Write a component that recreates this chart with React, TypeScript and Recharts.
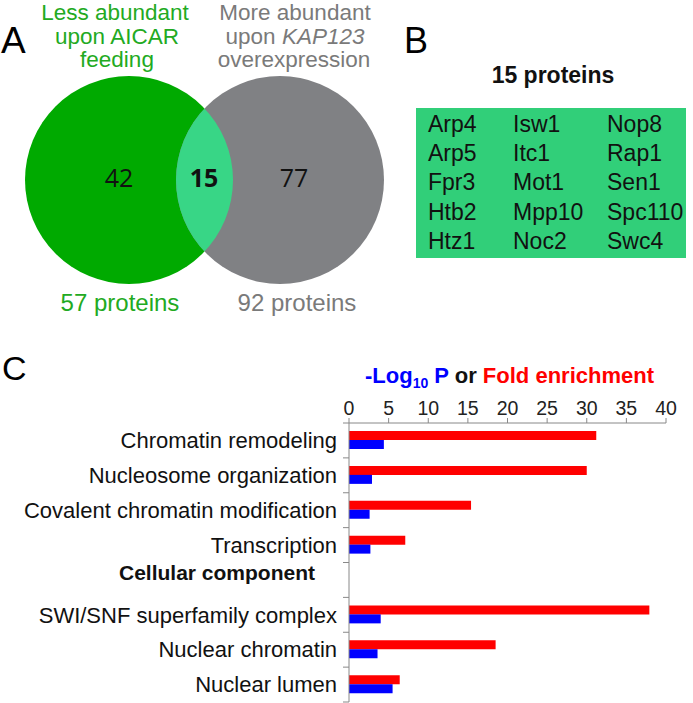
import React from "react";
import { BarChart, Bar, XAxis, YAxis } from "recharts";

// panel C: GO enrichment
const categories = [
	"Chromatin remodeling",
	"Nucleosome organization",
	"Covalent chromatin modification",
	"Transcription",
	"Cellular component",
	"SWI/SNF superfamily complex",
	"Nuclear chromatin",
	"Nuclear lumen",
];
const foldEnrichment = [31.2, 30.0, 15.4, 7.1, null, 37.9, 18.5, 6.4];
const negLog10P = [4.4, 2.9, 2.6, 2.7, null, 4.0, 3.6, 5.5];
const xTicks = [0, 5, 10, 15, 20, 25, 30, 35, 40];
const headerRows = ["Cellular component"];

// panel A / B
const vennCounts = [42, 15, 77];
const vennTotals = [57, 92];
const sharedProteins = [
	"Arp4", "Arp5", "Fpr3", "Htb2", "Htz1",
	"Isw1", "Itc1", "Mot1", "Mpp10", "Noc2",
	"Nop8", "Rap1", "Sen1", "Spc110", "Swc4",
];

const data = categories.map((name, i) => ({
	name,
	fold: foldEnrichment[i],
	logp: negLog10P[i],
}));

const FONT = '"Liberation Sans", Arial, Helvetica, sans-serif';
const W = 693;
const H = 703;
const CHART_TOP = 380;
const CHART_H = H - CHART_TOP;
const MARGIN = { top: 3, right: 27, bottom: 1, left: 0 };
const X_AXIS_H = 40;
const AXIS_X = 349;
const BAND = (CHART_H - MARGIN.top - MARGIN.bottom - X_AXIS_H) / categories.length;

const GREEN = "#00aa00";
const GRAY = "#808184";
const LENS = "#38d686";
const TABLE = "#31cf79";

function CategoryTick(props: any) {
	const { y, payload } = props;
	const idx = categories.indexOf(payload.value);
	const isHeader = headerRows.includes(payload.value);
	const top = y - BAND / 2;
	return (
		<g>
			<line x1={AXIS_X - 6} x2={AXIS_X} y1={top} y2={top} stroke="#888" />
			{idx === categories.length - 1 && (
				<line x1={AXIS_X - 6} x2={AXIS_X} y1={top + BAND} y2={top + BAND} stroke="#888" />
			)}
			<text
				x={isHeader ? 315 : AXIS_X - 12}
				y={isHeader ? y - 7.5 : y}
				dy="0.35em"
				textAnchor="end"
				fontSize={isHeader ? 21 : 22}
				fontWeight={isHeader ? "bold" : "normal"}
				fill="#111"
				fontFamily={FONT}
			>
				{payload.value}
			</text>
		</g>
	);
}

function Overlay() {
	const lc = { x: 129, y: 180 };
	const rc = { x: 280, y: 180 };
	const r = 104;
	const cols = 3;
	const rows = sharedProteins.length / cols;
	const colX = [428, 513, 607];
	return (
		<svg
			width={W}
			height={H}
			style={{ position: "absolute", left: 0, top: 0, pointerEvents: "none" }}
			fontFamily={FONT}
		>
			<defs>
				<clipPath id="leftClip">
					<circle cx={lc.x} cy={lc.y} r={r} />
				</clipPath>
			</defs>
			<text x={1} y={53} fontSize={37}>A</text>
			<text x={404} y={53} fontSize={36}>B</text>
			<text x={2} y={380} fontSize={34}>C</text>

			{/* venn headings */}
			<g fill="#22aa22" fontSize={22.5} textAnchor="middle">
				<text x={115} y={20}>Less abundant</text>
				<text x={117} y={43.5}>upon AICAR</text>
				<text x={117} y={67}>feeding</text>
			</g>
			<g fill="#7a7a7a" fontSize={22.5} textAnchor="middle">
				<text x={295} y={20}>More abundant</text>
				<text x={295} y={43.5}>
					upon <tspan fontStyle="italic">KAP123</tspan>
				</text>
				<text x={294} y={67}>overexpression</text>
			</g>

			<circle cx={lc.x} cy={lc.y} r={r} fill={GREEN} />
			<circle cx={rc.x} cy={rc.y} r={r} fill={GRAY} />
			<circle cx={rc.x} cy={rc.y} r={r} fill={LENS} clipPath="url(#leftClip)" />

			<g fontFamily='"Open Sans", sans-serif' fontSize={25} textAnchor="middle" fill="#111">
				<text x={119} y={187}>{vennCounts[0]}</text>
				<text x={204} y={187} fontWeight="bold">{vennCounts[1]}</text>
				<text x={294} y={187}>{vennCounts[2]}</text>
			</g>

			<text x={120} y={311} fontSize={24} fill="#22aa22" textAnchor="middle">
				{vennTotals[0]} proteins
			</text>
			<text x={297} y={311} fontSize={24} fill="#7a7a7a" textAnchor="middle">
				{vennTotals[1]} proteins
			</text>

			{/* panel B */}
			<text x={553} y={83} fontSize={23} fontWeight="bold" textAnchor="middle" fill="#111">
				{vennCounts[1]} proteins
			</text>
			<rect x={416} y={108} width={270} height={150} fill={TABLE} />
			{sharedProteins.map((p, i) => (
				<text
					key={p}
					x={colX[Math.floor(i / rows)]}
					y={131.5 + (i % rows) * 29.4}
					fontSize={23}
					fill="#111"
				>
					{p}
				</text>
			))}

			{/* panel C title */}
			<text x={365} y={383} fontSize={22} fontWeight="bold">
				<tspan fill="#0000ff">-Log</tspan>
				<tspan fill="#0000ff" fontSize={14} dy={5}>10</tspan>
				<tspan fill="#0000ff" dy={-5}> P</tspan>
				<tspan fill="#111"> or </tspan>
				<tspan fill="#ff0000">Fold enrichment</tspan>
			</text>
		</svg>
	);
}

export default function App() {
	return (
		<div
			style={{
				position: "absolute",
				left: 0,
				top: 0,
				width: W,
				height: H,
				background: "#fff",
				fontFamily: FONT,
			}}
		>
			<div style={{ position: "absolute", left: 0, top: CHART_TOP }}>
				<BarChart
					width={W}
					height={CHART_H}
					data={data}
					layout="vertical"
					margin={MARGIN}
					barSize={9}
					barGap={0}
				>
					<XAxis
						type="number"
						orientation="top"
						domain={[0, 40]}
						ticks={xTicks}
						height={X_AXIS_H}
						tickSize={5}
						tickMargin={3}
						stroke="#888"
						tick={{ fontSize: 19.5, fill: "#222", fontFamily: FONT }}
					/>
					<YAxis
						type="category"
						dataKey="name"
						width={AXIS_X}
						tickLine={false}
						stroke="#888"
						interval={0}
						tick={(p: any) => <CategoryTick {...p} />}
					/>
					<Bar dataKey="fold" fill="#ff0000" isAnimationActive={false} />
					<Bar dataKey="logp" fill="#0000ff" isAnimationActive={false} />
				</BarChart>
			</div>
			<Overlay />
		</div>
	);
}
